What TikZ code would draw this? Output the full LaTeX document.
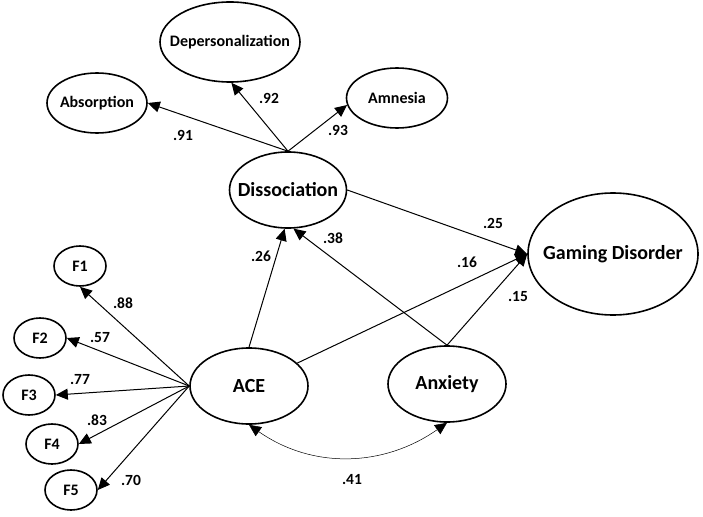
\documentclass[tikz,border=0pt]{standalone}
\usepackage{fontspec}
\setmainfont{Carlito}
\usetikzlibrary{shapes.geometric,arrows.meta}
\newcommand{\lv}[1]{\makebox[0pt]{#1}}
\begin{document}
\begin{tikzpicture}[x=1pt,y=1pt,
  lat/.style={ellipse,draw,line width=1.6pt,inner sep=0pt,font=\fontsize{20}{24}\selectfont\bfseries},
  ind/.style={ellipse,draw,line width=1.6pt,inner sep=0pt,font=\fontsize{16}{19}\selectfont\bfseries},
  arr/.style={-{Triangle[length=12pt,width=11pt]},line width=1pt},
  cov/.style={{Triangle[length=12pt,width=11pt]}-{Triangle[length=12pt,width=11pt]},line width=0.5pt},
  lbl/.style={font=\fontsize{15.5}{18}\selectfont\bfseries}]
\useasboundingbox (0,0) rectangle (703,-516);

\node[ind,minimum width=140pt,minimum height=80pt] (dep) at (230,-42) {\lv{Depersonalization}};
\node[ind,minimum width=100pt,minimum height=60pt] (abs) at (97,-103) {\lv{Absorption}};
\node[ind,minimum width=101pt,minimum height=60pt] (amn) at (397,-98) {\lv{Amnesia}};
\node[lat,minimum width=117pt,minimum height=76pt] (dis) at (288,-190) {\lv{Dissociation}};
\node[lat,minimum width=170pt,minimum height=122pt] (gd) at (613,-254) {\lv{Gaming Disorder}};
\node[lat,minimum width=118pt,minimum height=76pt] (ace) at (249,-386) {\lv{ACE}};
\node[lat,minimum width=118pt,minimum height=76pt] (anx) at (447,-384) {\lv{Anxiety}};

\draw[arr] (dis.north) -- (abs.east);
\draw[arr] (dis.north) -- (dep.-88);
\draw[arr] (dis.north) -- (amn.188);
\draw[arr] (dis.east) -- (gd.west);
\draw[arr] (ace) -- (gd.west);
\draw[arr] (anx.north) -- (gd.west);
\draw[arr] (ace.north) -- (dis.-95);
\draw[arr] (anx.north) -- (dis.-82);
\draw[cov] (ace.south) to[out=-35,in=-145] (anx.south);

\node[lbl] (l91) at (183,-135) {.91};
\node[lbl] (l92) at (269,-98) {.92};
\node[lbl] (l93) at (338,-130) {.93};
\node[lbl] (l38) at (333,-238) {.38};
\node[lbl] (l26) at (261,-256) {.26};
\node[lbl] (l25) at (493,-223) {.25};
\node[lbl] (l16) at (467,-262) {.16};
\node[lbl] (l15) at (518,-297) {.15};
\node[lbl] (l41) at (352,-480) {.41};

\foreach \i/\x/\y/\a/\lx/\ly/\v in {1/80/266/south/123/303/.88, 2/40/338/east/100/338/.57, 3/29/395/east/80/380/.77, 4/52/444/east/97/420/.83, 5/71/490/east/131/480/.70}{
  \node[ind,minimum width=52pt,minimum height=40pt] (f\i) at (\x,-\y) {F\i};
  \draw[arr] (ace.west) -- (f\i.\a);
  \node[lbl] (lf\i) at (\lx,-\ly) {\v};
}
\end{tikzpicture}
\end{document}
